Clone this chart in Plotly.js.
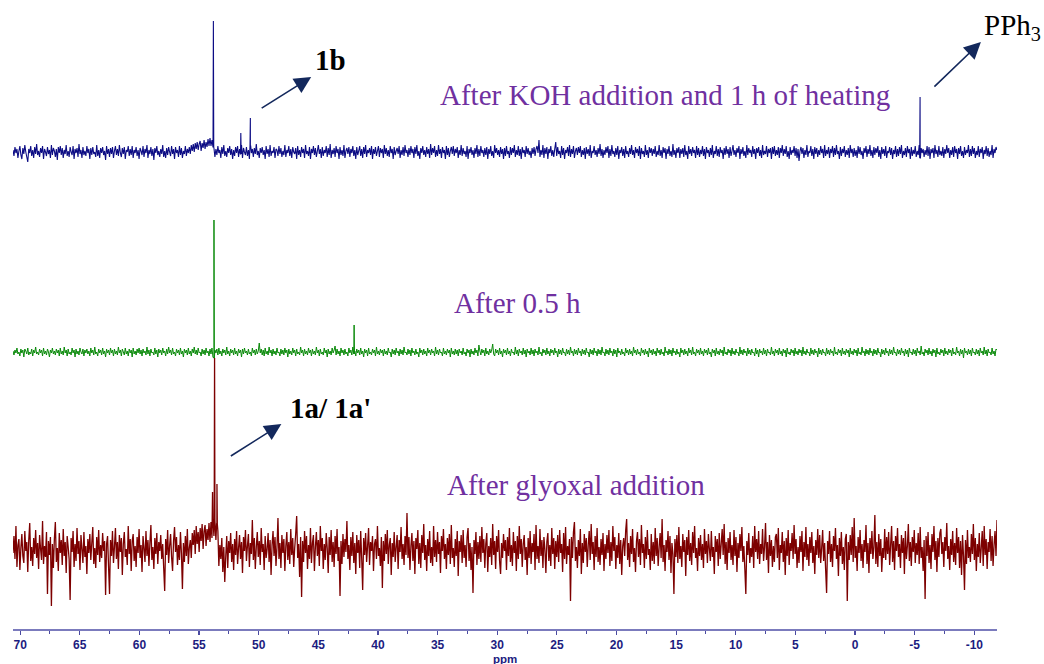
<!DOCTYPE html>
<html>
<head>
<meta charset="utf-8">
<script src="https://cdn.plot.ly/plotly-3.0.1.min.js"></script>
<style>
  html, body { margin: 0; padding: 0; background: #ffffff; }
  #chart { width: 1044px; height: 664px; }
</style>
</head>
<body>
<div id="chart"></div>
<script>
// 31P spectra, stacked: ppm axis runs from ppmStart (left) to ppmEnd (right)
const ppmStart = 70.6;
const ppmEnd = -11.9;

// Major tick positions and their labels
const tickValues = [70, 65, 60, 55, 50, 45, 40, 35, 30, 25, 20, 15, 10, 5, 0, -5, -10];
const tickLabels = ['70', '65', '60', '55', '50', '45', '40', '35', '30', '25', '20', '15', '10', '5', '0', '-5', '-10'];

// Baseline noise of each spectrum (intensity relative to its own baseline), evenly sampled
const redNoise = [
  -3, 14, -9, 24, -17, 5, 11, -20, 2, 16, -6, -13, 19, -1, 8, -22, 10, 27, -11, 3, -16, 12, -4, 20, -8,
  7, -19, 15, 1, -10, 29, -14, 4, -7, 18, -44, 9, -5, 13, -56, 6, -18, 11, 28, -12, 2, -21, 17, -3, 10,
  -15, 21, -6, 8, -23, 14, 3, -9, -50, 12, -2, 19, -17, 6, -11, 22, -4, 9, -20, 15, 1, -13, 18, -7, 4,
  -24, 11, -3, 16, -10, 7, 23, -14, 2, -18, 13, -5, 20, -12, 5, -8, 17, -1, 9, -45, 6, 14, -16, -44, 10,
  -6, 19, -13, 3, 22, -9, 8, -19, 15, -2, 12, -25, 6, 18, -7, 1, -15, 24, -4, 11, -21, 9, 16, -11, 4,
  -17, 13, -3, 21, -8, 5, -22, 14, 2, -12, 19, -6, 10, -16, 7, 25, -10, 3, -19, 12, -4, 17, -14, 8, -1,
  15, -9, 6, -18, -41, 11, -5, 20, -13, 4, 16, -7, -21, 9, 23, -2, 13, -15, 5, -10, 18, -3, -39, 7, -12,
  14, -6, 21, -14, 2, 10, -8, 17, 5, 20, -4, 24, 6, 18, -2, 22, 9, 26, 1, 19, 25, 4, 21, 10, 27,
  8, 28, 12, 30, 14, 29, 10, 26, 19, -16, 5, -9, 12, -22, 3, -32, -6, 14, -18, 9, -3, 17, -12, 6, -20,
  11, -5, 19, -14, 2, 15, -9, 8, -23, 13, -1, 20, -11, 4, 16, -17, 7, -4, 30, -10, 12, -19, 3, 18, -7,
  9, -15, 22, -2, 6, -20, 14, -8, 1, 17, -12, 10, -25, 5, 19, -6, 13, -16, 3, 32, -9, 7, -18, 15, -3,
  11, -21, 4, 18, -10, 8, -14, 21, -5, 12, -17, 2, 16, 34, -8, 6, -27, 13, -47, 9, -12, 19, -3, 14, -19,
  5, -9, 22, -13, 7, 15, -21, 3, 18, -6, 10, -16, 24, -1, 12, -19, 6, -10, 17, 2, -23, 13, -5, 20, -12,
  8, -17, 14, -4, 21, -11, 3, -46, 9, -14, 16, -7, 11, -2, 29, -9, 5, -20, 13, -6, 18, -13, 7, -24, 15,
  -3, 10, -18, 19, -8, -40, 12, -5, 17, -12, 4, 22, -15, 8, -1, 14, -21, 6, 11, -9, 24, -6, 2, -16, 13,
  -38, 9, -11, 16, -4, 20, -14, 5, 12, -25, 7, -7, 18, -12, 3, 15, -19, 10, -2, 23, -9, 6, -15, 14, -5,
  37, -8, 13, -20, 4, 17, -11, 9, -24, 12, 1, 20, -14, 7, -18, 15, -3, 26, -10, 5, -21, 11, -6, 19, -13,
  3, -16, 24, -7, 10, -12, 18, -4, 8, -23, 14, -1, 21, -9, 6, -19, 12, -5, 16, -14, 25, -8, 2, -17, 11,
  -6, 19, -26, 9, -2, 15, -13, 20, -8, 5, -17, 13, 22, -11, 7, -20, 3, -43, 10, -4, 18, -15, 8, -9, 14,
  -12, 23, -3, 11, -18, 6, 17, -22, 4, -7, 12, -15, 26, -5, 9, -19, 14, -2, 20, -11, -24, 7, -8, 16, -1,
  10, -20, 13, -6, 22, -12, 5, -16, 18, -3, 9, -21, 14, -9, 24, -4, 11, -17, 6, 15, -10, 3, -25, 12, -8,
  19, -14, 7, -2, 16, -20, 25, -9, 4, -13, 21, -6, 10, -18, 13, 1, -23, 8, 17, -11, 5, -16, 22, -4, 12,
  -19, 9, -7, 15, -12, 20, -3, 6, -22, 17, -9, 23, -14, 4, -5, 11, -51, 13, -8, 18, 28, -11, 3, -18, 10,
  -6, 21, -24, 7, -13, 16, -2, 12, -17, 5, 19, -10, 26, -4, 8, -20, 14, -7, 22, -12, 3, -15, 11, -5, 17,
  -21, 6, -9, 15, -3, 20, -16, 8, -11, 24, -1, 13, -19, 5, -8, 17, -14, 10, -25, 4, 12, -6, 19, 31, -10,
  7, -17, 14, -4, 21, -12, 2, -22, 9, 18, -7, 11, -15, 25, -3, 6, -18, 13, -9, 20, -5, 1, -20, 16, -11,
  8, -14, 22, -6, 12, -16, 3, 17, -8, 31, -12, 5, -21, 10, -2, 19, -10, 14, -23, 7, -4, -44, 11, -7, 15,
  -13, 23, -9, 4, -17, 16, -2, 10, -26, 13, -5, 20, -11, 7, -15, 18, -3, 24, -8, 2, -21, 12, -6, 15, -10,
  6, -18, 21, -4, 9, -13, 16, 1, -11, 19, -7, 3, -24, 14, -2, 11, -16, 17, -9, 6, 21, -5, 26, -14, 8,
  -20, 12, -3, 18, -10, 5, -15, 20, -6, 13, -22, 7, -8, 16, -1, 23, -12, 4, -19, -44, 9, -5, 17, -13, 2,
  -7, 14, -18, 24, -2, 11, -9, 19, -14, 6, -4, 21, -11, 3, 27, -10, 8, -23, 15, -6, 10, -17, 4, -12, 13,
  16, -8, 22, -20, 5, -3, 18, -12, 9, -25, 12, -6, 20, -15, 7, -1, 17, -9, 25, -4, 11, -18, 3, -13, 14,
  -2, 19, -21, 8, -7, 23, -10, 6, -16, 13, -3, 18, -13, 4, -24, 10, -5, 21, -8, 15, -13, 2, 20, -11, 7,
  -19, -43, 9, -4, 19, -12, 6, -17, 14, -1, 22, -9, 5, -26, 12, -6, 18, -14, 3, -20, 11, 16, -51, 8, -10,
  15, -5, 23, -12, 32, -8, 4, -21, 13, -3, 20, -11, 6, -18, 10, -2, 25, -14, 7, -23, 12, -4, 19, -9, 3,
  35, -14, 8, -17, 16, -6, 11, -22, 2, -8, 21, -10, 13, -4, 18, -15, 5, 24, -12, 9, -20, 14, -1, 22, -7,
  6, -18, 15, -3, 12, -24, 19, -9, 4, 26, -11, 8, -16, 13, -2, 20, -13, 7, -5, 17, -14, 23, -8, 3, -21,
  10, -49, 14, -6, 18, -13, 5, -19, 16, -2, 24, -10, 9, -22, 12, -7, 17, 21, -4, 8, -17, 13, -1, 27, -9,
  4, -20, 11, -5, 19, -12, 7, -15, 22, -3, 13, -18, 9, -25, 15, -6, -40, 10, -14, 20, -8, 3, -12, 16, -4,
  26, -10, 12, -21, 6, -7, 17, -13, 2, 19, -16, 24, -5, 11, -19, 8, -2, 21, -11, 14, -16, 5, 19, -6, 30
];

const greenNoise = [
  1, -3, 2, -1, 4, -2, 0, -4, 3, -1, 2, -5, 3, 1, -2, 4, -3, 0, -2, 3, -4, 2, -1, 5, -2,
  0, -3, 3, -1, 2, -4, 4, -2, 1, -3, 3, 0, -5, 2, -1, 4, -2, 1, -3, 3, -1, 2, -4, 4, -2,
  1, -3, 5, -1, 2, -4, 3, -2, 0, -3, 4, -1, 2, -5, 3, -2, 1, -3, 4, 0, -2, 3, -4, 2, -1,
  3, -2, 1, -4, 4, -1, 2, -3, 5, -2, 0, -4, 3, -1, 2, -3, 4, -2, 1, -5, 3, -1, 2, -3, 4,
  -1, 2, -4, 3, -2, 1, -3, 5, -1, 2, -4, 3, 0, -3, 4, -2, 1, -4, 3, -1, 2, -5, 4, -2, 1,
  -3, 3, -1, 4, -2, 2, -4, 3, -1, 1, -3, 5, -2, 2, -4, 3, -1, 0, -3, 4, -2, 2, -5, 3, -1,
  2, -3, 4, -1, 1, -4, 3, -2, 5, -1, 2, -3, 4, -2, 0, -4, 3, -1, 2, -3, 4, -2, 1, -5, 3,
  -1, 2, -3, 4, -2, 1, -4, 3, -1, 5, -2, 2, -3, 4, -1, 0, -4, 3, -2, 2, -3, 4, -1, 1, -4,
  3, -2, 4, -5, -6, 2, -1, 3, -3, 4, -2, 1, -4, 3, -1, 2, -3, 5, -2, 1, -4, 3, -1, 2, -3,
  4, -2, 1, -4, 3, -1, 2, -5, 3, -2, 4, -1, 1, -3, 3, -2, 0, -4, 4, -1, 2, -3, 3, -2, 1,
  9, -1, 3, -3, 2, -4, 4, -2, 1, -3, 5, -1, 2, -4, 3, -2, 1, -3, 4, -1, 0, -4, 3, -2, 2,
  -3, 4, -1, 2, -5, 3, -2, 1, -3, 4, -1, 2, -4, 3, -2, 0, -3, 5, -1, 2, -4, 3, -2, 1, -3,
  4, -1, 2, -4, 3, -2, 1, -3, 5, -1, 2, -4, 3, -2, 0, -3, 4, -1, 2, -5, 3, -2, 1, -3, 4,
  -1, 2, 6, -3, 3, -2, 1, -4, 4, -1, 2, -3, 3, -2, 0, -4, 4, -1, 2, -3, 5, -2, 1, -4, 3,
  -1, 2, -3, 4, -2, 1, -5, 3, -1, 2, -4, 4, -2, 0, -3, 3, -1, 2, -4, 5, -2, 1, -3, 3, -1,
  2, -4, 3, -2, 1, -3, 4, -1, 0, -5, 3, -2, 2, -3, 4, -1, 1, -4, 3, -2, 2, -3, 5, -1, 0,
  -3, 3, -2, 2, -4, 4, -1, 1, -3, 3, -2, 0, -5, 4, -1, 2, -3, 3, -2, 1, -4, 4, -1, 2, -3,
  3, -1, 1, -4, 5, -2, 2, -3, 3, -1, 0, -4, 4, -2, 1, -3, 3, -1, 2, -5, 4, -2, 1, -3, 3,
  -2, 2, -4, 3, -1, 1, -3, 4, -2, 0, -4, 3, -1, 2, -5, 3, -2, 1, -3, 4, -1, 2, -4, 7, 1,
  -3, 3, -1, 2, -4, 4, -2, 1, -3, 3, -1, 2, 8, -2, -4, 3, -1, 2, -3, 4, -2, 1, -5, 3, -1,
  2, -3, 4, -2, 1, -4, 3, -1, 0, -3, 5, -2, 2, -4, 3, -1, 1, -3, 4, -2, 2, -5, 3, -1, 1,
  -3, 4, -2, 2, -4, 3, -1, 1, -3, 5, -2, 0, -4, 3, -1, 2, -3, 4, -2, 1, -4, 3, -1, 2, -3,
  4, -1, 1, -5, 3, -2, 2, -3, 4, -1, 0, -4, 3, -2, 2, -3, 5, -1, 1, -4, 3, -2, 2, -3, 4,
  -1, 1, -4, 3, -2, 2, -3, 4, -1, 0, -5, 3, -2, 2, -3, 4, -1, 1, -4, 3, -2, 2, -3, 5, -1,
  0, -4, 3, -2, 2, -3, 4, -1, 1, -4, 3, -2, 2, -5, 4, -1, 1, -3, 3, -2, 0, -4, 4, -1, 2,
  -3, 3, -2, 1, -4, 5, -1, 2, -3, 3, -2, 0, -4, 4, -1, 2, -3, 3, -2, 1, -5, 4, -1, 2, -3,
  3, -2, 1, -4, 4, -1, 2, -3, 3, -2, 0, -4, 5, -1, 1, -3, 3, -2, 2, -4, 4, -1, 1, -3, 3,
  -2, 0, -5, 4, -1, 2, -3, 3, -2, 1, -4, 4, -1, 2, -3, 5, -2, 0, -4, 3, -1, 2, -3, 4, -2,
  1, -4, 3, -1, 2, -3, 4, -2, 0, -5, 3, -1, 2, -4, 4, -2, 1, -3, 3, -1, 2, -4, 5, -2, 0,
  -3, 3, -1, 2, -4, 4, -2, 1, -3, 3, -1, 0, -4, 5, -2, 2, -3, 3, -1, 1, -4, 4, -2, 2, -3,
  3, -1, 0, -4, 4, -2, 2, -5, 3, -1, 1, -3, 4, -2, 2, -4, 3, -1, 0, -3, 5, -2, 1, -4, 3,
  -1, 2, -3, 4, -2, 1, -4, 3, -1, 2, -5, 4, -2, 0, -3, 3, -1, 2, -4, 4, -2, 1, -3, 3, -1,
  2, -4, 5, -2, 1, -3, 3, -1, 0, -4, 4, -2, 2, -3, 3, -1, 1, -5, 4, -2, 2, -3, 3, -1, 0,
  -4, 4, -2, 2, -3, 3, -1, 1, -4, 5, -2, 0, -3, 3, -1, 2, -4, 4, -2, 1, -3, 3, -1, 2, -5,
  4, -2, 1, -3, 3, -1, 2, -4, 4, -2, 0, -3, 5, -1, 1, -4, 3, -2, 2, -3, 4, -1, 1, -4, 3,
  -2, 2, -3, 4, -1, 0, -5, 3, -2, 2, -3, 4, -1, 1, -4, 3, -2, 2, -3, 5, -1, 0, -4, 3, -2,
  2, -3, 4, -1, 1, -4, 3, -2, 2, -5, 4, -1, 0, -3, 3, -2, 2, -4, 4, -1, 1, -3, 6, -2, 0,
  -4, 3, -1, 2, -3, 4, -2, 1, -4, 3, -1, 2, -5, 4, -2, 0, -3, 3, -1, 2, -4, 4, -2, 1, -3,
  3, -1, 2, -4, 4, -2, 0, -3, 5, -1, 1, -4, 3, -2, 2, -6, 4, -1, 1, -3, 3, -2, 2, -4, 4,
  -1, 0, -3, 3, -2, 2, -4, 4, -1, 1, -3, 5, -2, 2, -4, 3, -1, 0, -3, 4, -2, 1, -4, 3, 2
];

const blueNoise = [
  2, -4, 5, -1, 3, -6, 1, 6, -3, -7, 4, -2, 7, 0, -5, -10, 3, -1, 6, -4, 2, -6, 5, -2, 8,
  -3, 1, -5, 4, -1, 6, -7, 3, 0, -4, 5, -2, 2, -6, 7, -3, 4, 1, -5, 3, -8, 5, -1, 6, -3,
  4, -6, 2, -2, 7, -4, 1, -5, 5, 0, -3, 6, -7, 3, -1, 4, -5, 8, -2, 2, -6, 5, -3, 1, -4,
  6, -1, 3, -7, 4, -3, 5, -2, 0, -5, 7, -4, 2, -6, 4, -1, 5, -3, 1, -8, 6, -2, 3, -5, 4,
  -2, 5, -6, 1, 6, -3, 3, -4, 7, -1, -5, 4, -2, 5, -7, 2, 0, 6, -4, 3, -3, 6, -6, 2, -1,
  5, -4, 2, -7, 4, 1, -3, 6, -5, 3, -1, 7, -6, 2, -2, 5, -4, 3, -8, 4, -1, 6, -3, 1, -5,
  3, -2, 7, -5, 1, -6, 4, -3, 5, 0, -4, 6, -2, 3, -7, 5, -1, 2, -5, 6, -3, 4, -6, 1, -2,
  6, -4, 3, -1, 5, -2, 7, 1, 8, 0, 9, 3, 10, 2, 8, 11, 1, 9, 4, 12, 3, 10, 5, 13, 6,
  14, 6, 12, 5, 4, -5, 3, -3, 6, -1, 2, -6, 5, -2, 7, -4, 1, -5, 4, -1, 6, -3, 3, -7, 2,
  -4, 5, -1, 6, -5, 3, -2, 7, -6, 4, 0, -3, 5, -4, 2, -7, 6, -1, 3, -5, 4, -2, 8, -3, 1,
  -6, 4, -1, 5, -3, 2, -7, 6, -2, 3, -5, 7, -4, 1, -1, 5, -6, 3, 2, -4, 6, -2, 4, -5, 1,
  -3, 7, -5, 2, -1, 6, -4, 3, -6, 5, 0, -2, 4, -7, 6, -3, 2, -5, 5, -1, 3, -6, 7, -2, 1,
  -4, 5, -7, 3, -1, 6, -3, 4, -5, 1, 7, -2, 3, -6, 5, -4, 2, -1, 6, -5, 4, -3, 8, -6, 2,
  -2, 4, -5, 6, -1, 3, -7, 5, -3, 2, -4, 7, -6, 1, 4, -2, 5, -5, 3, -1, 6, -4, 2, -7, 5,
  -3, 1, 6, -4, 3, -6, 5, -2, 7, -5, 2, -1, 4, -3, 6, -7, 3, -2, 5, -4, 1, 6, -5, 4, -1,
  3, -6, 7, -2, 4, -4, 2, -5, 6, -1, 3, -7, 5, -3, 1, 4, -2, 6, -6, 2, -3, 5, -4, 7, -1,
  2, -5, 4, -3, 6, -1, 3, -6, 5, -2, 7, -4, 1, -7, 4, -1, 6, -3, 2, -5, 5, -2, 3, -6, 8,
  -3, 4, -1, 6, -5, 2, -4, 7, -2, 3, -6, 5, -1, 2, -7, 6, -3, 4, -5, 1, 5, -2, 6, -4, 3,
  -1, 5, -6, 2, -3, 7, -4, 4, -2, 1, -5, 6, -7, 3, -1, 5, -3, 2, -6, 4, -2, 7, -5, 3, -4,
  6, -1, 2, -5, 4, -3, 5, -7, 3, -2, 6, -4, 1, -6, 7, -1, 4, -3, 2, -5, 5, -2, 3, -7, 4,
  -4, 6, -2, 1, -6, 5, -3, 4, -1, 7, -5, 2, -3, 6, -4, 3, -7, 5, -1, 2, -5, 6, -2, 4, -3,
  1, -6, 4, -2, 5, -4, 3, 6, -1, 12, -5, 2, -3, 7, -6, 4, -2, 5, -7, 3, -1, 6, -4, 2, -5,
  3, 10, -4, 5, -2, 1, -6, 6, -3, 4, -7, 2, -1, 5, -4, 7, -5, 3, -2, 6, -6, 1, 4, -3, 5,
  -1, 6, -5, 2, -3, 4, -7, 5, -2, 3, -4, 7, -6, 1, -1, 6, -3, 2, -5, 4, -2, 8, -4, 3, -6,
  2, -3, 5, -1, 6, -6, 3, -4, 7, -2, 1, -5, 4, -3, 6, -7, 2, -1, 5, -4, 3, -6, 6, -2, 1,
  -5, 4, -2, 7, -3, 2, -6, 5, -1, 3, -4, 6, -7, 4, -2, 1, -5, 7, -3, 2, -6, 5, -1, 4, -4,
  3, -2, 6, -5, 1, -3, 7, -4, 2, -6, 5, -1, 4, -7, 3, -2, 6, -4, 1, -5, 8, -3, 2, -6, 4,
  -1, 5, -6, 3, -2, 4, -5, 7, -3, 1, -7, 6, -2, 3, -4, 5, -1, 2, -6, 6, -3, 4, -5, 2, -2,
  6, -4, 3, -7, 5, -1, 2, -5, 4, -3, 7, -6, 1, -2, 6, -4, 3, -5, 5, -1, 2, -7, 4, -3, 6,
  -2, 3, -6, 5, -4, 1, 7, -3, 2, -5, 4, -1, 6, -7, 3, -2, 5, -4, 1, -6, 7, -3, 4, -1, 2,
  -5, 6, -2, 3, -7, 4, -1, 5, -4, 2, -6, 7, -3, 1, -2, 6, -5, 3, -1, 4, -7, 5, -2, 6, -4,
  2, -3, 5, -6, 4, -1, 7, -4, 3, -2, 6, -5, 1, -7, 5, -3, 2, -1, 6, -4, 4, -6, 3, -9, 1,
  5, -2, 4, -6, 2, -3, 7, -5, 1, -1, 6, -4, 3, -7, 5, -2, 4, -5, 2, -3, 6, -1, 3, -6, 7,
  -4, 2, -2, 5, -6, 3, -1, 6, -5, 4, -3, 7, -2, 1, -7, 5, -4, 3, -1, 6, -5, 2, -3, 4, -6,
  7, -1, 3, -5, 4, -4, 2, -6, 6, -2, 5, -3, 1, -7, 4, -1, 6, -5, 3, -2, 7, -4, 2, -6, 5,
  -3, 4, -1, 6, -5, 2, -7, 5, -2, 3, -4, 6, -6, 1, -1, 5, -3, 4, -7, 2, -2, 6, -5, 3, -4,
  5, -2, 7, -6, 1, -3, 4, -5, 6, -1, 3, -7, 5, -4, 2, -2, 6, -5, 1, -3, 7, -6, 4, -1, 3,
  -5, 2, -3, 6, -4, 5, -7, 3, -1, 4, -6, 7, -2, 2, -5, 6, -3, 1, -4, 5, -6, 3, -2, 7, -1,
  4, -6, 2, -3, 5, -5, 6, -1, 3, -7, 4, -2, 6, -4, 1, -6, 5, -3, 2, -1, 7, -5, 3, -4, 6,
  -2, 4, -6, 1, -3, 6, -5, 3, -1, 5, -7, 2, -2, 6, -4, 4, -5, 1, -3, 7, -6, 3, -1, 5, 2
];

// Resolved signals: chemical shift (ppm) and height above the baseline
const bluePeakPpm = [53.8, 51.5, 50.7, -5.45];
const bluePeakHeight = [131, 19, 34, 55];
const greenPeakPpm = [53.75, 42.0];
const greenPeakHeight = [132, 27];
const redPeakPpm = [53.87, 53.7, 53.5];
const redPeakHeight = [58, 192, 66];

// Vertical stacking offsets of the three spectra
const blueBase = 477;
const greenBase = 277;
const redBase = 79;

// Merge the sampled baseline with the sharp signals into one trace
function spectrum(noise, base, peakPpm, peakHeight) {
  const n = noise.length;
  const step = (ppmStart - ppmEnd) / (n - 1);
  const pts = noise.map((v, i) => ({ x: ppmStart - i * step, y: base + v }));
  const half = 0.03;
  peakPpm.forEach((p, k) => {
    const j = Math.min(n - 1, Math.max(0, Math.round((ppmStart - p) / step)));
    const foot = base + noise[j];
    pts.push({ x: p + half, y: foot }, { x: p, y: base + peakHeight[k] }, { x: p - half, y: foot });
  });
  pts.sort((a, b) => b.x - a.x);
  return { x: pts.map(p => p.x), y: pts.map(p => p.y) };
}

const blue = spectrum(blueNoise, blueBase, bluePeakPpm, bluePeakHeight);
const green = spectrum(greenNoise, greenBase, greenPeakPpm, greenPeakHeight);
const red = spectrum(redNoise, redBase, redPeakPpm, redPeakHeight);

const traces = [
  { x: red.x, y: red.y, type: 'scatter', mode: 'lines', line: { color: '#7d0000', width: 1.3, simplify: false }, hoverinfo: 'skip' },
  { x: green.x, y: green.y, type: 'scatter', mode: 'lines', line: { color: '#0a8a0a', width: 1, simplify: false }, hoverinfo: 'skip' },
  { x: blue.x, y: blue.y, type: 'scatter', mode: 'lines', line: { color: '#0c0c84', width: 1.1, simplify: false }, hoverinfo: 'skip' }
];

const purple = '#7030a0';
const arrowNavy = '#13285c';
const serif = 'Liberation Serif, Times New Roman, serif';
const axisBlue = '#1c1c80';

function label(text, x, y, color, bold, xref) {
  return {
    x: x, y: y, xref: xref || 'x', yref: 'y', text: bold ? '<b>' + text + '</b>' : text,
    showarrow: false, xanchor: 'center', yanchor: 'middle',
    font: { family: serif, size: 29, color: color }
  };
}

function arrow(x, y, ax, ay) {
  return {
    x: x, y: y, xref: 'x', yref: 'y', ax: ax, ay: ay, text: '',
    showarrow: true, arrowhead: 2, arrowsize: 2.1, arrowwidth: 1.6,
    arrowcolor: arrowNavy, standoff: 0
  };
}

const annotations = [
  label('After KOH addition and 1 h of heating', 15.9, 534, purple, false),
  label('After 0.5 h', 28.3, 326, purple, false),
  label('After glyoxal addition', 23.4, 144, purple, false),
  label('1b', 44.0, 569, '#000000', true),
  label("1a/ 1a'", 44.0, 221, '#000000', true),
  label('PPh<sub>3</sub>', 1.0155, 602, '#000000', false, 'paper'),
  arrow(45.6, 552, -51, 32),
  arrow(-10.55, 587, -48, 46),
  arrow(48.1, 205, -52, 33),
  {
    x: 0.5, y: -0.048, xref: 'paper', yref: 'paper', text: '<b>ppm</b>', showarrow: false,
    xanchor: 'center', yanchor: 'middle',
    font: { family: 'Liberation Sans, Arial, sans-serif', size: 11.5, color: axisBlue }
  }
];

const layout = {
  width: 1044,
  height: 664,
  margin: { l: 13, r: 47, t: 10, b: 35 },
  paper_bgcolor: '#ffffff',
  plot_bgcolor: '#ffffff',
  showlegend: false,
  xaxis: {
    range: [ppmStart, ppmEnd],
    showgrid: false,
    zeroline: false,
    showline: true,
    linecolor: '#7b7bbd',
    linewidth: 1.5,
    tickmode: 'array',
    tickvals: tickValues,
    ticktext: tickLabels,
    ticks: 'outside',
    ticklen: 4,
    tickwidth: 1.2,
    tickcolor: '#4a4aa0',
    ticklabelstandoff: 0,
    minor: { dtick: 2.5, tick0: 0, ticks: 'outside', ticklen: 3, tickwidth: 1, tickcolor: '#4a4aa0' },
    tickfont: { family: 'Liberation Sans, Arial, sans-serif', size: 12, color: axisBlue, weight: 'bold' },
    fixedrange: true
  },
  yaxis: {
    range: [0, 619],
    visible: false,
    fixedrange: true
  },
  annotations: annotations
};

Plotly.newPlot('chart', traces, layout, { displayModeBar: false, staticPlot: true });
</script>
</body>
</html>
